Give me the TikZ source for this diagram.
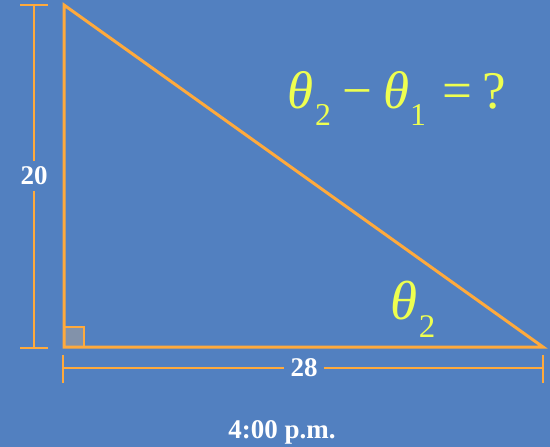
\documentclass[tikz,border=0pt]{standalone}
\usepackage{amsmath,amssymb}
\usepackage{fontspec}
\setmainfont{Liberation Serif}
\usepackage{tikz}
\usetikzlibrary{positioning,calc}
\usepackage{xcolor}
\definecolor{bgblue}{RGB}{82,128,192}
\definecolor{edgeorange}{RGB}{255,170,60}
\definecolor{mathyellow}{RGB}{238,255,80}
\definecolor{cornergray}{RGB}{130,146,170}
% theta with a lowered index
\newcommand{\thetaidx}[1]{\textit{θ}\kern0.02em\raisebox{-0.32em}{\fontsize{0.6\dimexpr\fontdimen6\font\relax}{1em}\selectfont #1}}
\tikzset{
  side/.style={edgeorange, line width=3pt, line join=miter},
  dimline/.style={edgeorange, line width=1.8pt},
  dimlabel/.style={text=white, font=\fontsize{27}{29}\selectfont\bfseries, inner sep=6pt},
  anglabel/.style={text=mathyellow, inner sep=0pt}
}
\begin{document}
\begin{tikzpicture}[x=1pt, y=-1pt]
            % Background
            \fill[bgblue] (0,0) rectangle (550,447);
            \useasboundingbox (0,0) rectangle (550,447);

            % Triangle
            \coordinate (top) at (64,5);
            \coordinate (corner) at (64,347);
            \coordinate (tip) at (543,347);
            \draw[fill=cornergray, draw=edgeorange, line width=2pt] (64,327) rectangle (84,347);
            \draw[side] (top) -- (corner) -- (tip) -- cycle;

            % Height dimension
            \coordinate (htop) at (34,5);
            \coordinate (hbot) at (34,348);
            \node[dimlabel] (h20) at (34,176) {20};
            \draw[dimline] (20,5) -- (48,5);
            \draw[dimline] (20,348) -- (48,348);
            \draw[dimline] (htop) -- (h20) -- (hbot);

            % Base dimension
            \coordinate (wleft) at (63,368);
            \coordinate (wright) at (543,368);
            \node[dimlabel] (w28) at (304,368) {28};
            \draw[dimline] (63,355) -- (63,383);
            \draw[dimline] (543,355) -- (543,383);
            \draw[dimline] (wleft) -- (w28) -- (wright);

            % Angles
            \node[anglabel, font=\fontsize{53}{58}\selectfont] (question) at (397,98)
              {\thetaidx{2}\kern0.22em−\kern0.2em\thetaidx{1}\kern0.3em=\kern0.2em?};
            \node[anglabel, font=\fontsize{55}{60}\selectfont] (theta2) at (413,309) {\thetaidx{2}};

            % Time
            \node[text=white, font=\fontsize{27}{29}\selectfont\bfseries] (time) at (282,432) {4:00 p.m.};
        \end{tikzpicture}
\end{document}
